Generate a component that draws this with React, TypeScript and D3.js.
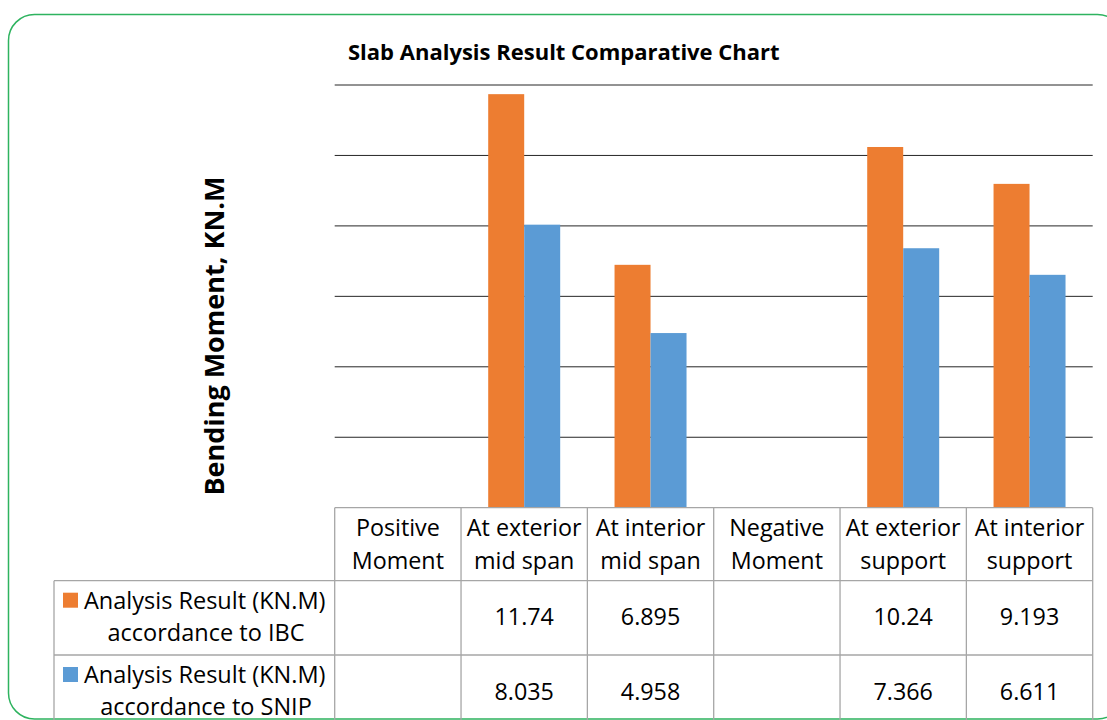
import React from 'react'
import * as d3 from 'd3'

// chart data
const categories: string[][] = [
  ['Positive', 'Moment'],
  ['At exterior', 'mid span'],
  ['At interior', 'mid span'],
  ['Negative', 'Moment'],
  ['At exterior', 'support'],
  ['At interior', 'support'],
]
const ibcValues: (number | null)[] = [null, 11.74, 6.895, null, 10.24, 9.193]
const snipValues: (number | null)[] = [null, 8.035, 4.958, null, 7.366, 6.611]
const seriesNames = ['IBC', 'SNIP']
const seriesLabels = [
  ['Analysis Result (KN.M)', 'accordance to IBC'],
  ['Analysis Result (KN.M)', 'accordance to SNIP'],
]
const seriesColors = ['#ED7D31', '#5B9BD5']
const yTicks = [2, 4, 6, 8, 10, 12]

const W = 1107
const H = 720
const FONT = '"Open Sans", "DejaVu Sans", sans-serif'

export default function App() {
  const plotLeft = 334.7
  const plotRight = 1092.7
  const plotTop = 85
  const plotBottom = 507.7

  const keys = categories.map((c, i) => String(i))
  const x0 = d3.scaleBand<string>().domain(keys).range([plotLeft, plotRight]).paddingInner(0).paddingOuter(0)
  const x1 = d3.scaleBand<string>().domain(seriesNames).range([0, x0.bandwidth()]).paddingInner(0).paddingOuter(0.755)
  const y = d3.scaleLinear().domain([0, 12]).range([plotBottom, plotTop])

  const series = [ibcValues, snipValues]

  // table geometry
  const headerBottom = 580.7
  const row1Bottom = 655
  const row2Bottom = 729
  const legendLeft = 54
  const tableStroke = '#a6a6a6'

  const colEdges = [...keys.map(k => x0(k) as number), plotRight]

  return (
    <svg width={W} height={H} style={{ position: 'absolute', left: 0, top: 0, background: '#fff' }} fontFamily={FONT}>
      <rect x={8.5} y={14.5} width={1115} height={704.5} rx={26} ry={26} fill="#fff" stroke="#2eb35f" strokeWidth={1.5} />

      <text x={348} y={60} fontSize={22} fontWeight={700} fill="#000">Slab Analysis Result Comparative Chart</text>

      <text
        transform={`translate(224,${(178 + 494) / 2}) rotate(-90)`}
        textAnchor="middle"
        fontSize={27}
        fontWeight={700}
        fill="#000"
      >Bending Moment, KN.M</text>

      {/* gridlines */}
      {yTicks.map(t => (
        <line key={t} x1={plotLeft} x2={plotRight} y1={y(t)} y2={y(t)} stroke="#262626" strokeWidth={1} />
      ))}

      {/* bars */}
      {series.map((vals, si) =>
        vals.map((v, i) =>
          v == null ? null : (
            <rect
              key={`${si}-${i}`}
              x={(x0(keys[i]) as number) + (x1(seriesNames[si]) as number)}
              y={y(v)}
              width={x1.bandwidth()}
              height={plotBottom - y(v)}
              fill={seriesColors[si]}
            />
          )
        )
      )}

      {/* data table */}
      <g stroke={tableStroke} strokeWidth={1.3} fill="none">
        <line x1={plotLeft} x2={plotRight} y1={plotBottom} y2={plotBottom} />
        <line x1={legendLeft} x2={plotRight} y1={headerBottom} y2={headerBottom} />
        <line x1={legendLeft} x2={plotRight} y1={row1Bottom} y2={row1Bottom} />
        <line x1={legendLeft} x2={plotRight} y1={row2Bottom} y2={row2Bottom} />
        <line x1={legendLeft} x2={legendLeft} y1={headerBottom} y2={row2Bottom} />
        {colEdges.map((cx, i) => (
          <line key={i} x1={cx} x2={cx} y1={plotBottom} y2={row2Bottom} />
        ))}
      </g>

      <g fontSize={23.3} fill="#000" textAnchor="middle">
        {categories.map((lines, i) => {
          const cx = (x0(keys[i]) as number) + x0.bandwidth() / 2
          return (
            <text key={i} x={cx} y={536}>
              <tspan x={cx}>{lines[0]}</tspan>
              <tspan x={cx} dy={33}>{lines[1]}</tspan>
            </text>
          )
        })}
        {series.map((vals, si) =>
          vals.map((v, i) =>
            v == null ? null : (
              <text
                key={`v${si}-${i}`}
                x={(x0(keys[i]) as number) + x0.bandwidth() / 2}
                y={(si === 0 ? 625 : 700)}
              >{String(v)}</text>
            )
          )
        )}
      </g>

      {/* legend cells */}
      {seriesLabels.map((lines, si) => {
        const top = si === 0 ? headerBottom : row1Bottom
        return (
          <g key={si} fontSize={23.5} fill="#000">
            <rect x={63} y={top + 12} width={15} height={15} fill={seriesColors[si]} />
            <text x={84} y={top + 28}>{lines[0]}</text>
            <text x={206} y={top + 60} textAnchor="middle">{lines[1]}</text>
          </g>
        )
      })}
    </svg>
  )
}
